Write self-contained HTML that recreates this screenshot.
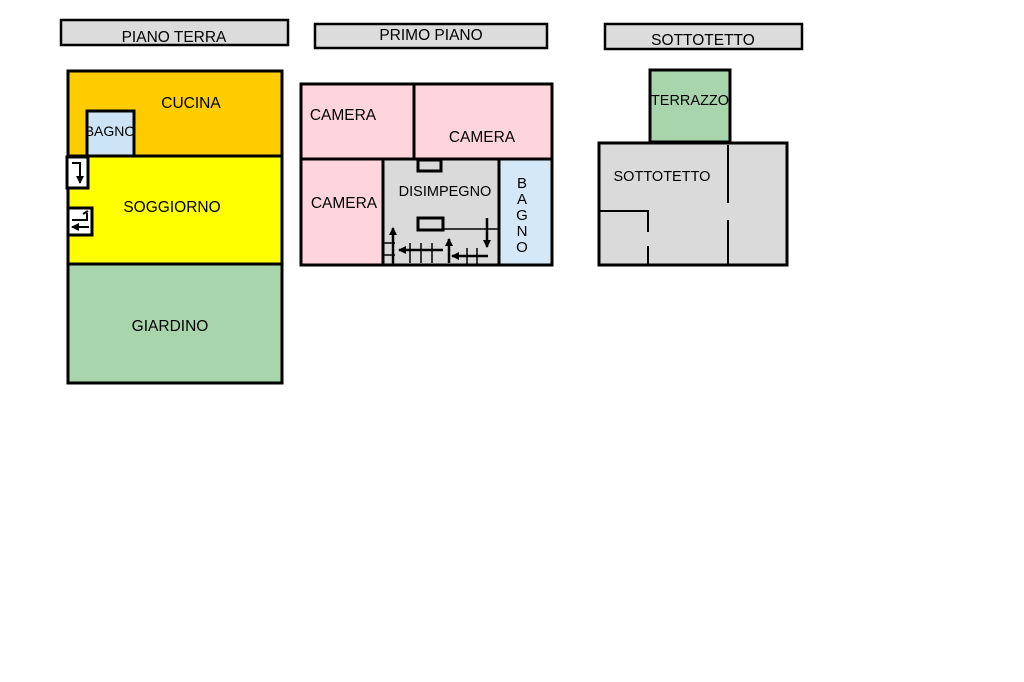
<!DOCTYPE html>
<html><head><meta charset="utf-8"><style>
html,body{margin:0;padding:0;background:#fff;width:1024px;height:682px;overflow:hidden}
svg text{font-family:"Liberation Sans",sans-serif;fill:#000}
</style></head><body>
<svg width="1024" height="682" viewBox="0 0 1024 682" xmlns="http://www.w3.org/2000/svg">
<defs><marker id="ah" markerWidth="9" markerHeight="9" refX="7" refY="4" orient="auto" markerUnits="userSpaceOnUse"><path d="M0,0 L8,4 L0,8 z" fill="#000"/></marker></defs>
<rect x="61" y="20" width="227" height="25" fill="#dcdcdc" stroke="#000" stroke-width="2.5"/>
<text x="174" y="42" font-size="15.5" text-anchor="middle">PIANO TERRA</text>
<rect x="315" y="24" width="232" height="24" fill="#dcdcdc" stroke="#000" stroke-width="2.5"/>
<text x="431" y="40" font-size="15.5" text-anchor="middle">PRIMO PIANO</text>
<rect x="605" y="24" width="197" height="25" fill="#dcdcdc" stroke="#000" stroke-width="2.5"/>
<text x="703" y="45" font-size="15.5" text-anchor="middle">SOTTOTETTO</text>

<g stroke="#000" stroke-width="3">
<rect x="68" y="71" width="214" height="85" fill="#ffcc00"/>
<rect x="68" y="156" width="214" height="108" fill="#ffff00"/>
<rect x="68" y="264" width="214" height="119" fill="#a9d5ac"/>
<rect x="87" y="111" width="47" height="45" fill="#cce4f6"/>
<rect x="67" y="157" width="21" height="31" fill="#fff"/>
<rect x="68" y="208" width="24" height="27" fill="#fff"/>
</g>
<g stroke="#000" stroke-width="2" fill="none">
<path d="M72,163 H80 V183" marker-end="url(#ah)"/>
<path d="M72,220 H87 V213"/>
<path d="M89,227 H72" marker-end="url(#ah)"/>
<path d="M83,214 l5,-3"/>
</g>
<text x="191" y="108" font-size="15.5" text-anchor="middle">CUCINA</text>
<text x="110" y="136" font-size="14" text-anchor="middle" fill="#333">BAGNO</text>
<text x="172" y="212" font-size="15.5" text-anchor="middle">SOGGIORNO</text>
<text x="170" y="331" font-size="15.5" text-anchor="middle">GIARDINO</text>

<g stroke="#000" stroke-width="3">
<rect x="301" y="84" width="113" height="75" fill="#ffd5dd"/>
<rect x="414" y="84" width="138" height="75" fill="#ffd5dd"/>
<rect x="301" y="159" width="82" height="106" fill="#ffd5dd"/>
<rect x="383" y="159" width="116" height="106" fill="#dadada"/>
<rect x="499" y="159" width="53" height="106" fill="#d5e8f8"/>
<rect x="418" y="160" width="23" height="11" fill="none"/>
<rect x="418" y="218" width="25" height="12" fill="none"/>
</g>
<g stroke="#000" stroke-width="1.5" fill="none">
<path d="M443,229 H499"/>
<path d="M383,243 H395 M383,255 H395"/>
<path d="M410,243 V263 M421,243 V263 M432,243 V263"/>
<path d="M467,248 V266 M477,248 V266"/>
</g>
<g stroke="#000" stroke-width="2.5" fill="none">
<path d="M487,218 V247" marker-end="url(#ah)"/>
<path d="M393,264 V228" marker-end="url(#ah)"/>
<path d="M443,250 H399" marker-end="url(#ah)"/>
<path d="M449,263 V239" marker-end="url(#ah)"/>
<path d="M488,256 H452" marker-end="url(#ah)"/>
</g>
<text x="343" y="120" font-size="15.5" text-anchor="middle">CAMERA</text>
<text x="482" y="142" font-size="15.5" text-anchor="middle">CAMERA</text>
<text x="344" y="208" font-size="15.5" text-anchor="middle">CAMERA</text>
<text x="445" y="196" font-size="14.5" text-anchor="middle" fill="#333">DISIMPEGNO</text>
<g font-size="15" text-anchor="middle"><text x="522" y="188">B</text><text x="522" y="204">A</text><text x="522" y="220">G</text><text x="522" y="236">N</text><text x="522" y="252">O</text></g>

<g stroke="#000" stroke-width="3">
<rect x="650" y="70" width="80" height="72" fill="#a9d5ac"/>
<rect x="599" y="143" width="188" height="122" fill="#dadada"/>
</g>
<g stroke="#000" stroke-width="2" fill="none">
<path d="M728,145 V203 M728,220 V264"/>
<path d="M600,211 H648 V232 M648,246 V264"/>
</g>
<text x="690" y="105" font-size="14.5" text-anchor="middle" fill="#333">TERRAZZO</text>
<text x="662" y="181" font-size="14.5" text-anchor="middle" fill="#333">SOTTOTETTO</text>
</svg>
</body></html>
